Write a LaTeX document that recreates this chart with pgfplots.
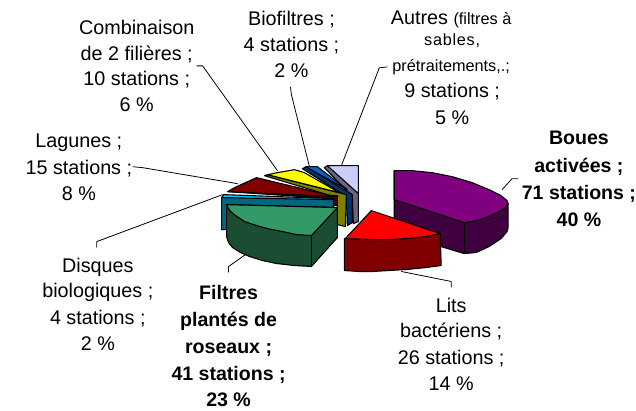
\documentclass[border=0pt]{standalone}
\usepackage{fontspec}
\setmainfont{Liberation Sans}
\usepackage{pgfplots}
\pgfplotsset{compat=1.18}
\definecolor{cPur}{HTML}{800080}\definecolor{cPurD}{HTML}{400040}
\definecolor{cRed}{HTML}{FF0000}\definecolor{cRedD}{HTML}{800000}
\definecolor{cGre}{HTML}{339966}\definecolor{cGreD}{HTML}{1A4D33}
\definecolor{cCya}{HTML}{00CCFF}\definecolor{cCyaD}{HTML}{006680}
\definecolor{cLag}{HTML}{800000}\definecolor{cLagD}{HTML}{400000}
\definecolor{cYel}{HTML}{FFFF00}\definecolor{cYelD}{HTML}{808000}
\definecolor{cBlu}{HTML}{0066CC}\definecolor{cBluD}{HTML}{003366}
\definecolor{cLav}{HTML}{CCCCFF}\definecolor{cLavD}{HTML}{666680}
\newcommand\lab[3]{\node[anchor=base,inner sep=0pt,text=black,font=\fontsize{19.8}{22}\selectfont] at (axis cs:#1,#2) {#3};}
\newcommand\labb[3]{\node[anchor=base,inner sep=0pt,text=black,font=\fontsize{19.6}{22}\selectfont\bfseries] at (axis cs:#1,#2) {#3};}
\begin{document}
\begin{tikzpicture}
\begin{axis}[
  scale only axis, width=636pt, height=411pt,
  xmin=0, xmax=636, ymin=0, ymax=411, y dir=reverse,
  hide axis, clip=false, no markers,
  every axis plot/.append style={draw=black, line width=1.1pt, line join=round, solid},
]
\path (axis cs:0,0) rectangle (axis cs:636,411);
% leader lines
\addplot[line width=0.8pt] coordinates {(388,67)(380,68)(342,166)};
\addplot[line width=0.8pt] coordinates {(291,87)(292,95)(310,167)};
\addplot[line width=0.8pt] coordinates {(197,66)(203,66)(278,171)};
\addplot[line width=0.8pt] coordinates {(133,167)(143,168)(238,184)};
\addplot[line width=0.8pt] coordinates {(97,248)(97,242)(223,195)};
\addplot[line width=0.8pt] coordinates {(229,273)(229,267)(246,255)};
\addplot[line width=0.8pt] coordinates {(452,288)(452,282)(402,272)};
\addplot[line width=0.8pt] coordinates {(503,190)(513,179)(519,179)};
% Boues activees
\addplot[fill=cPurD] coordinates {(395,171)(395,233)(465,254)(477,253)(490,247)(502,239)(508,232)(509,228)(509,204)(465,223)} --cycle;
\addplot[] coordinates {(465,223)(465,254)};
\addplot[fill=cPur] coordinates {(395,171)(413,171)(433,173)(453,177)(473,183)(490,190)(502,196)(508,201)(509,204)(505,209)(498,213)(487,218)(473,222)(465,223)(395,200)} --cycle;
% Autres
\addplot[fill=cLavD] coordinates {(325,168)(328,166)(359,166)(359,222)(354,224)(353,197)} --cycle;
\addplot[fill=cLav] coordinates {(328,166)(359,166)(359,194)} --cycle;
% Biofiltres
\addplot[fill=cBluD] coordinates {(303,169)(307,167)(353,195)(353,223)(348,226)(347,197)} --cycle;
\addplot[fill=cBlu] coordinates {(306,167)(318,167)(348,190)} --cycle;
% Combinaison
\addplot[fill=cYelD] coordinates {(265,176)(268,175)(347,195)(346,227)(338,225)(338,198)} --cycle;
\addplot[fill=cYel] coordinates {(268,175)(278,173)(295,170)(305,173)(340,193)} --cycle;
% Lagunes
\addplot[fill=cLagD] coordinates {(228,192)(338,196)(338,206)(333,206)(333,199)} --cycle;
\addplot[fill=cLag] coordinates {(228,192)(237,187)(257,178)(336,197)} --cycle;
% Disques
\addplot[fill=cCya] coordinates {(222,198)(224,195)(334,199)(334,202)} --cycle;
\addplot[fill=cCyaD] coordinates {(222,198)(334,200)(334,208)(227,206)(227,230)(222,230)} --cycle;
% Filtres plantes
\addplot[fill=cGreD] coordinates {(227,205)(227,237)(229,243)(233,248)(241,253)(250,257)(263,261)(277,264)(295,266)(312,267)(338,238)(338,208)} --cycle;
\addplot[] coordinates {(312,236)(312,267)};
\addplot[fill=cGre] coordinates {(227,205)(338,208)(312,236)(297,235)(283,232)(268,229)(257,226)(245,222)(236,216)(230,211)} --cycle;
% Lits bacteriens
\addplot[fill=cRedD] coordinates {(345,239)(345,271)(360,272)(373,272)(390,271)(407,270)(427,268)(442,266)(441,234)} --cycle;
\addplot[fill=cRed] coordinates {(372,211)(441,234)(427,237)(407,239)(390,240)(373,240)(346,239)} --cycle;
% labels
\lab{137}{35}{Combinaison}
\lab{137}{61}{de 2 filières ;}
\lab{137}{86}{10 stations ;}
\lab{137}{112}{6 \%}
\lab{292}{25.5}{Biofiltres ;}
\lab{292}{51.5}{4 stations ;}
\lab{292}{77.5}{2 \%}
\lab{452}{25}{Autres {\fontsize{16.3}{18}\selectfont (filtres à}}
\node[anchor=base,inner sep=0pt,font=\fontsize{16.3}{18}\selectfont\addfontfeature{LetterSpace=4.5}] at (axis cs:453,46) {sables,};
\node[anchor=base,inner sep=0pt,font=\fontsize{16.3}{18}\selectfont] at (axis cs:452,72) {prétraitements,.;};
\lab{453}{98}{9 stations ;}
\lab{453}{125}{5 \%}
\lab{79}{148}{Lagunes ;}
\lab{79}{175}{15 stations ;}
\lab{79}{201}{8 \%}
\lab{98}{273}{Disques}
\lab{98}{298}{biologiques ;}
\lab{98}{325}{4 stations ;}
\lab{98}{351}{2 \%}
\labb{229}{300}{Filtres}
\labb{229}{327}{plantés de}
\labb{229}{354}{roseaux ;}
\labb{229}{381}{41 stations ;}
\labb{229}{407.5}{23 \%}
\labb{580}{145}{Boues}
\labb{580}{173}{activées ;}
\labb{580}{200}{71 stations ;}
\labb{580}{227}{40 \%}
\lab{452}{313}{Lits}
\lab{452}{338}{bactériens ;}
\lab{452}{365}{26 stations ;}
\lab{452}{391}{14 \%}
\end{axis}
\end{tikzpicture}
\end{document}
